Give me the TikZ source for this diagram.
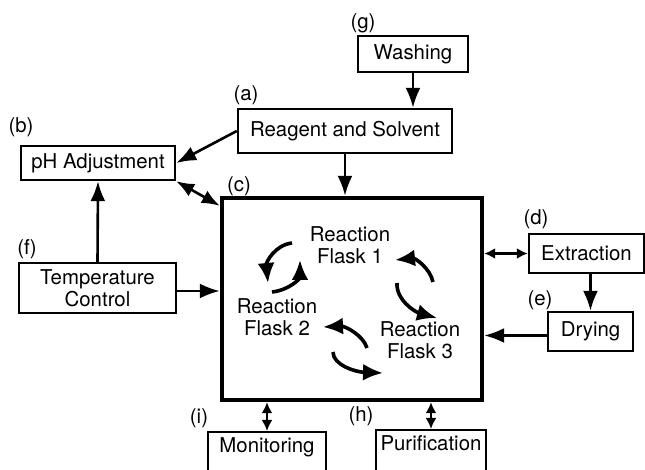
\documentclass[tikz,border=0pt]{standalone}
\usepackage{fontspec}
\setmainfont{TeX Gyre Heros}
\usetikzlibrary{arrows.meta}
\begin{document}
\begin{tikzpicture}[x=0.5pt,y=-0.5pt,
	every node/.style={font=\fontsize{10.2}{11}\selectfont},
	box/.style={draw,line width=1.2pt,inner sep=0pt,align=center},
	openbox/.style={box,anchor=north,inner ysep=2pt,text height=8pt,text depth=14pt},
	arr/.style={line width=1.3pt,-{Latex[length=10pt,width=7.5pt]}},
	darr/.style={line width=1.3pt,{Latex[length=9pt,width=7pt]}-{Latex[length=9pt,width=7pt]}},
	sarr/.style={line width=1.2pt,{Latex[length=5.5pt,width=5.5pt]}-{Latex[length=5.5pt,width=5.5pt]}},
	cyc/.style={line width=1.8pt,-{Latex[length=10pt,width=8.5pt]}}]
	\useasboundingbox (0,0) rectangle (645,470);

	% boxes
	\node[box,minimum width=55pt,minimum height=18pt] (wash) at (413,54) {Washing};
	\node[box,minimum width=107pt,minimum height=22pt] (reag) at (345,131) {Reagent and Solvent};
	\node[box,minimum width=77pt,minimum height=17pt] (ph) at (98,163) {pH Adjustment};
	\node[box,minimum width=78.5pt,minimum height=25pt] (temp) at (97.5,288) {Temperature\\Control};
	\node[draw,line width=2.2pt,minimum width=130pt,minimum height=101pt] (main) at (352,299) {};
	\node[box,minimum width=57.5pt,minimum height=19.5pt] (extr) at (586.5,253.5) {Extraction};
	\node[box,minimum width=42.5pt,minimum height=19.5pt] (dry) at (590.5,331.5) {Drying};
	\node[openbox,minimum width=59pt] (mon) at (267,431) {Monitoring};
	\node[openbox,minimum width=55pt] (pur) at (431,429) {Purification};

	% letters
	\node (la) at (246,95) {(a)};
	\node (lb) at (21,127) {(b)};
	\node (lc) at (239,186) {(c)};
	\node (ld) at (536,219) {(d)};
	\node (le) at (540,300) {(e)};
	\node (lf) at (27,249) {(f)};
	\node (lg) at (363,23) {(g)};
	\node (lh) at (361,416) {(h)};
	\node (li) at (199,418) {(i)};

	% flasks
	\node[align=center] (f1) at (350,245) {Reaction\\Flask 1};
	\node[align=center] (f2) at (277,317) {Reaction\\Flask 2};
	\node[align=center] (f3) at (420,340) {Reaction\\Flask 3};

	\path [arr] (wash.south) edge (wash.south |- reag.north);
	\path [arr] (reag.west) edge (ph.east);
	\path [arr] (reag.south) edge (reag.south |- main.north);
	\path [darr] (ph.south east) edge ([yshift=-5pt]main.north west);
	\path [arr] (temp.north) edge (ph.south);
	\path [arr] ([yshift=-1.5pt]temp.east) edge ([yshift=-1.5pt]temp.east -| main.west);
	\path [sarr] (extr.west -| main.east) edge (extr.west);
	\path [arr] (extr.south -| dry.north) edge (dry.north);
	\path [arr] ([yshift=-2pt]dry.west) edge ([yshift=-2pt]dry.west -| main.east);
	\path [sarr] (mon.north |- main.south) edge (mon.north);
	\path [sarr] (pur.north |- main.south) edge (pur.north);

	% cycle arrows
	\draw [cyc] (292,243) .. controls (275,245) and (266,262) .. (268,283);
	\draw [cyc] (272,292) .. controls (290,290) and (300,278) .. (300,260);
	\draw [cyc] (433,282) .. controls (430,268) and (415,258) .. (395,260);
	\draw [cyc] (397,283) .. controls (396,300) and (415,312) .. (437,318);
	\draw [cyc] (367,348) .. controls (363,335) and (345,326) .. (323,327);
	\draw [cyc] (333,352) .. controls (333,365) and (355,372) .. (383,373);
\end{tikzpicture}
\end{document}
